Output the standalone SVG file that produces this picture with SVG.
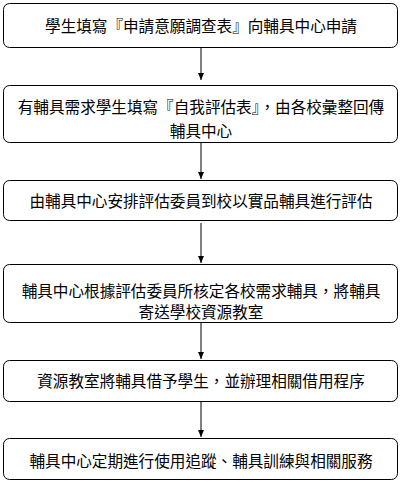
<svg xmlns="http://www.w3.org/2000/svg" width="402" height="484" viewBox="0 0 402 484">
<defs>
<style>
.box{fill:#fff;stroke:#000;stroke-width:1}
.t{font-family:"Noto Sans CJK TC",sans-serif;font-size:15.6px;fill:#000;text-anchor:middle;dominant-baseline:central}
.c{stroke:#000;stroke-width:1;fill:none;marker-end:url(#ah)}
</style>
<marker id="ah" markerWidth="8" markerHeight="8" refX="7" refY="4" orient="auto" markerUnits="userSpaceOnUse">
<path d="M0,1 L7,4 L0,7 Z" fill="#000"/>
</marker>
</defs>
<rect width="402" height="484" fill="#fff"/>
<g id="connectors">
<line class="c" x1="201" y1="48" x2="201" y2="80"/>
<line class="c" x1="201" y1="143" x2="201" y2="179"/>
<line class="c" x1="201" y1="223" x2="201" y2="263"/>
<line class="c" x1="201" y1="323" x2="201" y2="359"/>
<line class="c" x1="201" y1="402" x2="201" y2="437"/>
</g>
<g id="n1"><rect class="box" x="3.5" y="3.5" width="394" height="44" rx="6"/><text class="t" x="201" y="25">學生填寫『申請意願調查表』向輔具中心申請</text></g>
<g id="n2"><rect class="box" x="3.5" y="85.5" width="394" height="57" rx="6"/><text class="t" x="201" y="106">有輔具需求學生填寫『自我評估表』，由各校彙整回傳</text><text class="t" x="201" y="130">輔具中心</text></g>
<g id="n3"><rect class="box" x="3.5" y="180.5" width="394" height="40" rx="6"/><text class="t" x="201" y="200">由輔具中心安排評估委員到校以實品輔具進行評估</text></g>
<g id="n4"><rect class="box" x="3.5" y="264.5" width="394" height="58" rx="6"/><text class="t" x="201" y="290">輔具中心根據評估委員所核定各校需求輔具，將輔具</text><text class="t" x="201" y="311">寄送學校資源教室</text></g>
<g id="n5"><rect class="box" x="3.5" y="360.5" width="394" height="41" rx="6"/><text class="t" x="201" y="380">資源教室將輔具借予學生，並辦理相關借用程序</text></g>
<g id="n6"><rect class="box" x="3.5" y="438.5" width="394" height="41" rx="6"/><text class="t" x="201" y="460">輔具中心定期進行使用追蹤、輔具訓練與相關服務</text></g>
</svg>
